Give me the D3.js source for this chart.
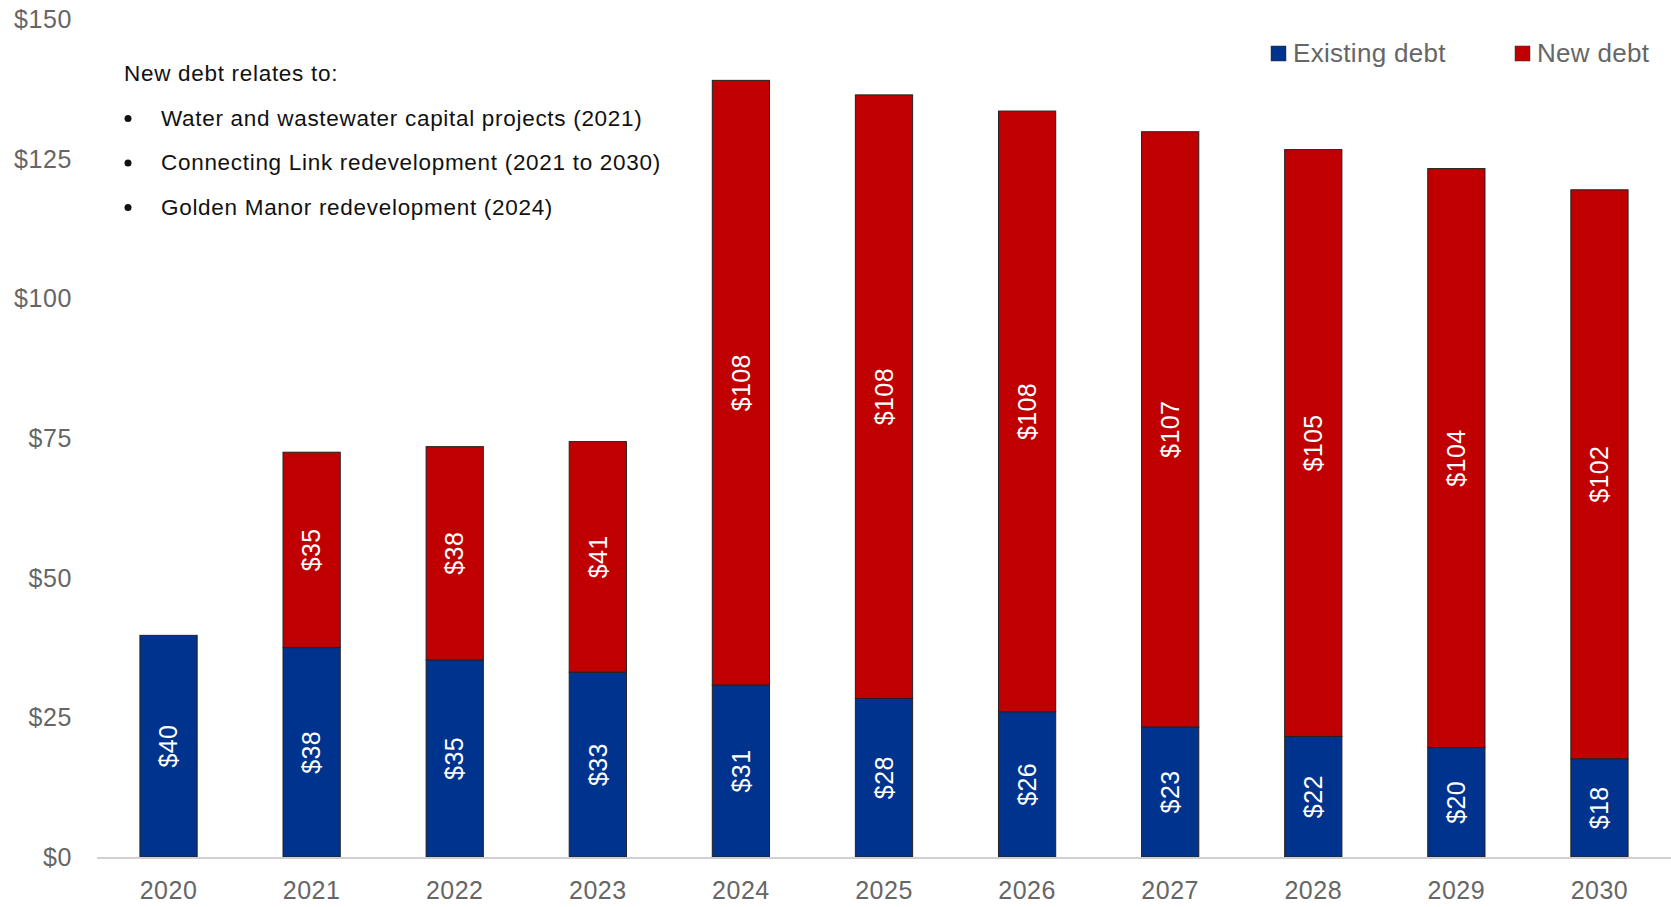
<!DOCTYPE html>
<html>
<head>
  <meta charset="utf-8">
  <title>Debt outlook</title>
  <script src="https://cdn.jsdelivr.net/npm/d3@7"></script>
  <style>
    body { margin: 0; background: #fff; }
    text { font-family: "Liberation Sans", Arial, sans-serif; }
  </style>
</head>
<body>
  <script>
    // chart data (millions)
    var years = ["2020", "2021", "2022", "2023", "2024", "2025", "2026", "2027", "2028", "2029", "2030"];
    var existingDebt = [39.7, 37.5, 35.3, 33.1, 30.8, 28.4, 26.0, 23.3, 21.6, 19.6, 17.6];
    var newDebt = [0, 35.0, 38.2, 41.3, 108.3, 108.1, 107.6, 106.6, 105.1, 103.7, 101.9];
    var yTicks = [0, 25, 50, 75, 100, 125, 150];
    var seriesNames = ["Existing debt", "New debt"];
    var noteTitle = "New debt relates to:";
    var noteItems = [
      "Water and wastewater capital projects (2021)",
      "Connecting Link redevelopment (2021 to 2030)",
      "Golden Manor redevelopment (2024)"
    ];

    var w = 1671, h = 907;
    var colors = ["#00338d", "#c00000"];

    var svg = d3.select("body").append("svg")
      .attr("width", w)
      .attr("height", h);

    var x = d3.scaleBand()
      .domain(years)
      .range([97, 1671])
      .paddingInner(0.6)
      .paddingOuter(0.3);

    var y = d3.scaleLinear()
      .domain([0, 150])
      .range([857, 19.5]);

    // y tick labels
    svg.append("g").selectAll("text")
      .data(yTicks)
      .enter().append("text")
      .attr("x", 72)
      .attr("y", function(d) { return y(d); })
      .attr("dy", "0.35em")
      .attr("text-anchor", "end")
      .attr("fill", "#666")
      .style("font-size", "25px")
      .style("letter-spacing", "0.6px")
      .text(function(d) { return "$" + d; });

    // stacked data
    var rows = years.map(function(yr, i) {
      return { year: yr, existing: existingDebt[i], added: newDebt[i] };
    });
    var stack = d3.stack().keys(["existing", "added"]);
    var layers = stack(rows);

    var layerG = svg.append("g").selectAll("g")
      .data(layers)
      .enter().append("g")
      .attr("fill", function(d, i) { return colors[i]; });

    layerG.selectAll("rect")
      .data(function(d) { return d.filter(function(s) { return s[1] - s[0] > 0; }); })
      .enter().append("rect")
      .attr("x", function(d) { return x(d.data.year); })
      .attr("y", function(d) { return y(d[1]); })
      .attr("width", x.bandwidth())
      .attr("height", function(d) { return y(d[0]) - y(d[1]); })
      .attr("stroke", "#222")
      .attr("stroke-width", 1);

    // value labels, rotated
    layerG.selectAll("text")
      .data(function(d) { return d.filter(function(s) { return s[1] - s[0] > 0; }); })
      .enter().append("text")
      .attr("transform", function(d) {
        var cx = x(d.data.year) + x.bandwidth() / 2;
        var cy = (y(d[0]) + y(d[1])) / 2;
        return "translate(" + cx + "," + cy + ") rotate(-90)";
      })
      .attr("text-anchor", "middle")
      .attr("dy", "0.35em")
      .attr("fill", "#fff")
      .style("font-size", "25px")
      .style("letter-spacing", "0.4px")
      .text(function(d) { return "$" + Math.round(d[1] - d[0]); });

    // baseline
    svg.append("line")
      .attr("x1", 97).attr("x2", w)
      .attr("y1", y(0) + 1).attr("y2", y(0) + 1)
      .attr("stroke", "#d0d0d0")
      .attr("stroke-width", 2);

    // x labels
    svg.append("g").selectAll("text")
      .data(years)
      .enter().append("text")
      .attr("x", function(d) { return x(d) + x.bandwidth() / 2; })
      .attr("y", 890)
      .attr("dy", "0.35em")
      .attr("text-anchor", "middle")
      .attr("fill", "#666")
      .style("font-size", "25px")
      .style("letter-spacing", "0.5px")
      .text(function(d) { return d; });

    // legend
    var legendX = [1271, 1515];
    var legend = svg.append("g").selectAll("g")
      .data(seriesNames)
      .enter().append("g")
      .attr("transform", function(d, i) { return "translate(" + legendX[i] + ",46)"; });
    legend.append("rect")
      .attr("width", 15).attr("height", 15)
      .attr("fill", function(d, i) { return colors[i]; })
      .attr("stroke", "#333").attr("stroke-width", 0.5);
    legend.append("text")
      .attr("x", 22).attr("y", 7)
      .attr("dy", "0.35em")
      .attr("fill", "#666")
      .style("font-size", "26px")
      .style("letter-spacing", "0.3px")
      .text(function(d) { return d; });

    // annotation
    var note = svg.append("g");
    note.append("text")
      .attr("x", 124).attr("y", 81)
      .attr("fill", "#111")
      .style("font-size", "22.5px")
      .style("letter-spacing", "0.7px")
      .text(noteTitle);
    var items = note.selectAll("g.item")
      .data(noteItems)
      .enter().append("g")
      .attr("class", "item")
      .attr("transform", function(d, i) { return "translate(0," + (125.5 + i * 44.5) + ")"; });
    items.append("circle")
      .attr("cx", 128).attr("cy", -7)
      .attr("r", 3.5)
      .attr("fill", "#111");
    items.append("text")
      .attr("x", 161).attr("y", 0)
      .attr("fill", "#111")
      .style("font-size", "22.5px")
      .style("letter-spacing", "0.7px")
      .text(function(d) { return d; });
  </script>
</body>
</html>
